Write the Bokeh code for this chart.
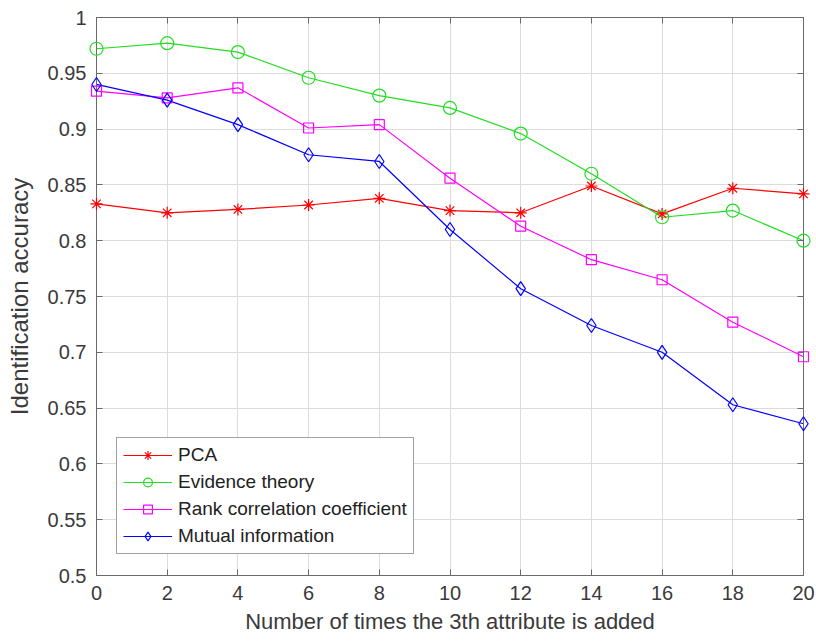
from bokeh.plotting import figure
from bokeh.models import Range1d, FixedTicker, LinearAxis, Legend, CustomLabelingPolicy
from bokeh.embed import file_html
from bokeh.resources import INLINE

x_vals = [0, 2, 4, 6, 8, 10, 12, 14, 16, 18, 20]
pca = [0.833, 0.825, 0.828, 0.832, 0.838, 0.827, 0.825, 0.849, 0.824, 0.847, 0.842]
evidence = [0.972, 0.977, 0.969, 0.946, 0.930, 0.919, 0.896, 0.860, 0.821, 0.827, 0.800]
rank_corr = [0.934, 0.928, 0.937, 0.901, 0.904, 0.856, 0.813, 0.783, 0.765, 0.727, 0.696]
mutual = [0.940, 0.926, 0.904, 0.877, 0.871, 0.810, 0.757, 0.724, 0.700, 0.653, 0.636]

series_names = ["PCA", "Evidence theory", "Rank correlation coefficient", "Mutual information"]
x_ticks = [0, 2, 4, 6, 8, 10, 12, 14, 16, 18, 20]
y_ticks = [0.5, 0.55, 0.6, 0.65, 0.7, 0.75, 0.8, 0.85, 0.9, 0.95, 1.0]
y_tick_labels = ["0.5", "0.55", "0.6", "0.65", "0.7", "0.75", "0.8", "0.85", "0.9", "0.95", "1"]
x_title = "Number of times the 3th attribute is added"
y_title = "Identification accuracy"

FONT = "Liberation Sans"
TEXT = "#3a3a3a"
AXIS = "#6a6a6a"

p = figure(width=816, height=644, output_backend="svg", toolbar_location=None,
           x_range=Range1d(0, 20), y_range=Range1d(0.5, 1.0),
           min_border_left=96, min_border_right=13, min_border_top=17, min_border_bottom=69)
p.outline_line_color = AXIS
p.outline_line_width = 1
p.background_fill_color = "white"
p.border_fill_color = "white"

def style_axis(ax):
    ax.axis_line_color = AXIS
    ax.major_tick_line_color = AXIS
    ax.major_tick_in = 6
    ax.major_tick_out = 0
    ax.minor_tick_line_color = None
    ax.major_label_text_font = FONT
    ax.major_label_text_color = TEXT
    ax.major_label_text_font_size = "20px"
    ax.axis_label_text_font = FONT
    ax.axis_label_text_color = TEXT
    ax.axis_label_text_font_style = "normal"

xa = p.xaxis[0]
ya = p.yaxis[0]
xa.ticker = FixedTicker(ticks=x_ticks)
ya.ticker = FixedTicker(ticks=y_ticks)
ya.major_label_overrides = {t: l for t, l in zip(y_ticks, y_tick_labels)}
style_axis(xa)
style_axis(ya)
xa.axis_label = x_title
ya.axis_label = y_title
xa.axis_label_text_font_size = "22px"
ya.axis_label_text_font_size = "24px"
xa.major_label_standoff = 10
ya.major_label_standoff = 10
xa.axis_label_standoff = 6
ya.axis_label_standoff = 12

no_labels = "for (const i of Array.from(indices)) { indices.unset(i) }\nreturn indices"
top = LinearAxis(ticker=FixedTicker(ticks=x_ticks))
right = LinearAxis(ticker=FixedTicker(ticks=y_ticks))
for ax in (top, right):
    style_axis(ax)
    ax.major_label_policy = CustomLabelingPolicy(code=no_labels)
    ax.major_label_text_font_size = "0px"
    ax.major_label_standoff = 0
p.add_layout(top, "above")
p.add_layout(right, "right")

p.xgrid.ticker = FixedTicker(ticks=x_ticks)
p.ygrid.ticker = FixedTicker(ticks=y_ticks)
p.grid.grid_line_color = "#dcdcdc"
p.grid.grid_line_width = 1

colors = ["#ff0000", "#22dd22", "#ff00ff", "#0000ff"]
markers = ["asterisk", "circle", "square", "diamond"]
sizes = [12, 13, 10, 14]
data = [pca, evidence, rank_corr, mutual]

items = []
for name, ys, c, m, s in zip(series_names, data, colors, markers, sizes):
    r1 = p.line(x_vals, ys, line_color=c, line_width=1.2)
    r2 = p.scatter(x_vals, ys, marker=m, size=s, line_color=c, fill_color=None, line_width=1.2, level="overlay")
    items.append((name, [r1, r2]))

legend = Legend(items=items, location=(20, 21))
legend.label_text_font = FONT
legend.label_text_font_size = "19px"
legend.label_text_color = "#222222"
legend.glyph_width = 49
legend.glyph_height = 22
legend.label_height = 22
legend.label_standoff = 6
legend.spacing = 5
legend.padding = 6
legend.margin = 0
legend.border_line_color = "#444444"
legend.border_line_width = 1
legend.background_fill_color = "white"
legend.background_fill_alpha = 1
p.add_layout(legend, "center")

open("out.html", "w").write(file_html(p, INLINE))
